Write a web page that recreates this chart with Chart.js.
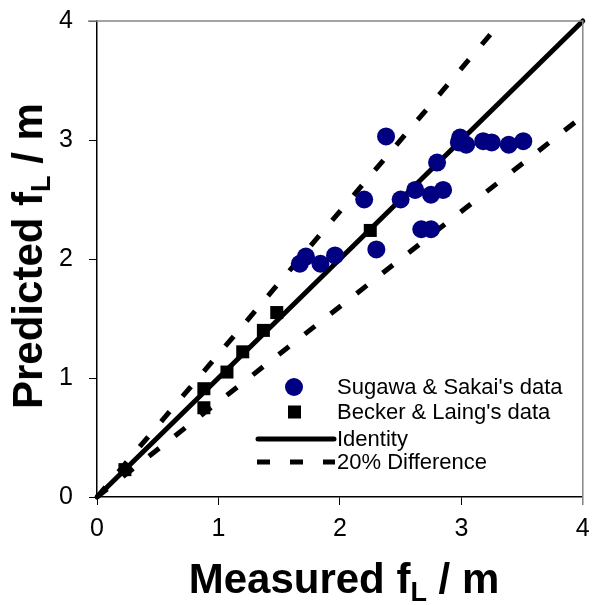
<!DOCTYPE html>
<html lang="en">
<head>
  <meta charset="UTF-8" />
  <title>Predicted vs Measured fL</title>
  <style>
    body { margin: 0; background: #fff; }
    #wrap { position: relative; width: 592px; height: 605px; }
    #wrap canvas { position: absolute; left: 0; top: 0; }
    .axtitle {
      position: absolute;
      font-family: "Liberation Sans", Arial, sans-serif;
      font-weight: bold;
      font-size: 42px;
      line-height: 42px;
      white-space: nowrap;
      color: #000;
    }
    .axtitle sub { font-size: 27px; line-height: 0; vertical-align: -8px; }
    #xTitle { left: 344px; top: 579px; transform: translate(-50%, -50%); }
    #yTitle { left: 28px; top: 256px; transform: translate(-50%, -50%) rotate(-90deg); }
  </style>
</head>
<body>
  <div id="wrap">
    <canvas id="chart" width="592" height="605"></canvas>
    <div class="axtitle" id="xTitle">Measured f<sub>L</sub> / m</div>
    <div class="axtitle" id="yTitle">Predicted f<sub>L</sub> / m</div>
  </div>

  <script src="https://cdn.jsdelivr.net/npm/chart.js"></script>
  <script>
    // Sugawa & Sakai's data
    const sugawaX = [1.67, 1.72, 1.84, 1.96, 2.20, 2.30, 2.38, 2.50, 2.62, 2.75, 2.85, 2.67, 2.75, 2.80, 2.98, 2.99, 3.04, 3.18, 3.25, 3.39, 3.51];
    const sugawaY = [1.96, 2.02, 1.96, 2.03, 2.50, 2.08, 3.03, 2.50, 2.58, 2.54, 2.58, 2.25, 2.25, 2.81, 2.98, 3.02, 2.96, 2.99, 2.98, 2.96, 2.99];

    // Becker & Laing's data
    const beckerX = [0.23, 0.88, 0.88, 1.07, 1.20, 1.37, 1.48, 2.25];
    const beckerY = [0.23, 0.91, 0.75, 1.05, 1.22, 1.40, 1.55, 2.24];

    // reference lines
    const identityX = [0, 4];
    const identityY = [0, 4];
    const upperX = [0, 3.333];
    const upperY = [0, 4];
    const lowerX = [0, 4];
    const lowerY = [0, 3.2];

    const tickValues = [0, 1, 2, 3, 4];

    const legendItems = ["Sugawa & Sakai's data", "Becker & Laing's data", 'Identity', '20% Difference'];

    const pts = (xs, ys) => xs.map((x, i) => ({ x: x, y: ys[i] }));
    const FONT = '"Liberation Sans", Arial, sans-serif';

    // gray frame on top/right + custom legend inside the plot
    const extras = {
      id: 'extras',
      afterDraw(chart) {
        const a = chart.chartArea, ctx = chart.ctx;
        ctx.save();
        ctx.strokeStyle = '#888';
        ctx.lineWidth = 1.5;
        ctx.beginPath();
        ctx.moveTo(a.left - 9, a.top);
        ctx.lineTo(a.right, a.top);
        ctx.lineTo(a.right, a.bottom + 8);
        ctx.stroke();

        const rows = [387, 412, 439, 462];
        // circle
        ctx.fillStyle = '#000080';
        ctx.beginPath();
        ctx.arc(294, rows[0], 9, 0, Math.PI * 2);
        ctx.fill();
        // square
        ctx.fillStyle = '#000';
        ctx.fillRect(288, rows[1] - 6.5, 13, 13);
        // solid line
        ctx.strokeStyle = '#000';
        ctx.lineWidth = 5;
        ctx.lineCap = 'round';
        ctx.beginPath();
        ctx.moveTo(258, rows[2]);
        ctx.lineTo(334, rows[2]);
        ctx.stroke();
        // dashed line
        ctx.lineCap = 'butt';
        ctx.setLineDash([13, 20]);
        ctx.beginPath();
        ctx.moveTo(257, rows[3]);
        ctx.lineTo(335, rows[3]);
        ctx.stroke();
        ctx.setLineDash([]);
        // labels
        ctx.font = '22px ' + FONT;
        ctx.fillStyle = '#000';
        ctx.textBaseline = 'middle';
        ctx.textAlign = 'left';
        legendItems.forEach((t, i) => ctx.fillText(t, 337, rows[i] + 1));
        ctx.restore();
      }
    };

    const noPad = (s) => { s.paddingLeft = 0; s.paddingRight = 0; s.paddingTop = 0; s.paddingBottom = 0; };

    const axisCommon = {
      type: 'linear',
      min: 0,
      max: 4,
      afterBuildTicks: (s) => { s.ticks = tickValues.map(v => ({ value: v })); },
      grid: { drawOnChartArea: false, drawTicks: true, tickLength: 8, color: '#000', lineWidth: 1 },
      border: { display: true, color: '#000', width: 1.5 },
      title: { display: false }
    };

    new Chart(document.getElementById('chart'), {
      type: 'scatter',
      data: {
        datasets: [
          {
            label: legendItems[0],
            data: pts(sugawaX, sugawaY),
            pointStyle: 'circle',
            pointRadius: 9,
            backgroundColor: '#000080',
            borderColor: '#000080',
            borderWidth: 0
          },
          {
            label: legendItems[1],
            data: pts(beckerX, beckerY),
            pointStyle: 'rect',
            pointRadius: 9.2,
            backgroundColor: '#000',
            borderColor: '#000',
            borderWidth: 0
          },
          {
            label: legendItems[2],
            data: pts(identityX, identityY),
            showLine: true,
            pointRadius: 0,
            borderColor: '#000',
            borderWidth: 5,
            borderCapStyle: 'round'
          },
          {
            label: legendItems[3],
            data: pts(upperX, upperY),
            showLine: true,
            pointRadius: 0,
            borderColor: '#000',
            borderWidth: 5,
            borderDash: [13, 20],
            borderCapStyle: 'butt'
          },
          {
            label: legendItems[3],
            data: pts(lowerX, lowerY),
            showLine: true,
            pointRadius: 0,
            borderColor: '#000',
            borderWidth: 5,
            borderDash: [13, 20],
            borderCapStyle: 'butt'
          }
        ]
      },
      options: {
        responsive: false,
        animation: false,
        clip: false,
        layout: { padding: { left: 0, right: 7, top: 21, bottom: 0 } },
        plugins: {
          legend: { display: false },
          tooltip: { enabled: false }
        },
        scales: {
          x: Object.assign({}, axisCommon, {
            position: 'bottom',
            ticks: { font: { family: FONT, size: 25 }, color: '#000', padding: 9, maxRotation: 0 },
            afterFit: (s) => { s.height = 108; noPad(s); }
          }),
          y: Object.assign({}, axisCommon, {
            position: 'left',
            ticks: { font: { family: FONT, size: 25 }, color: '#000', padding: 16 },
            afterFit: (s) => { s.width = 97; noPad(s); }
          })
        }
      },
      plugins: [extras]
    });
  </script>
</body>
</html>
